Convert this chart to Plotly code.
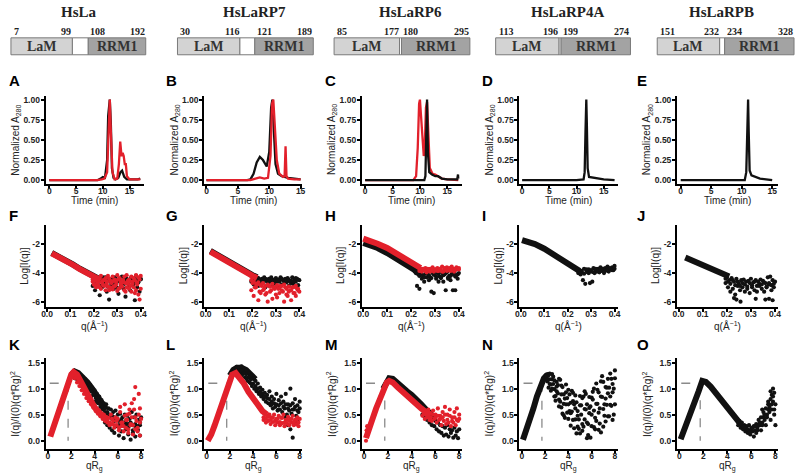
import plotly.graph_objects as go

W, H = 800, 473
BLACK = "#111111"
RED = "#e2202b"

# ---------------- domain diagrams (residue numbers) ----------------
PROTEINS = ["HsLa", "HsLaRP7", "HsLaRP6", "HsLaRP4A", "HsLaRPB"]
LAM_START = [7, 30, 85, 113, 151]
LAM_END = [99, 116, 177, 196, 232]
RRM_START = [108, 121, 180, 199, 234]
RRM_END = [192, 189, 295, 274, 328]

# ---------------- row 1: SEC chromatograms ----------------
A_T_BLACK = [0, 9.0, 9.6, 10.0, 10.4, 10.8, 11.0, 11.3, 11.5, 11.7, 12.0, 12.4, 12.9, 13.3, 13.6, 14.0, 14.5, 16.5, 17.0]
A_BLACK = [0.0, 0.0, 0.02, 0.04, 0.03, 0.25, 0.8, 1.0, 0.7, 0.15, 0.03, 0.01, 0.03, 0.1, 0.12, 0.04, 0.01, 0.01, 0.02]
A_T_RED = [0, 9.0, 9.8, 10.3, 10.8, 11.1, 11.3, 11.5, 11.8, 12.2, 12.7, 13.0, 13.25, 13.5, 13.7, 13.9, 14.1, 14.3, 14.5, 15.0, 17.0]
A_RED = [0.0, 0.0, 0.01, 0.02, 0.1, 0.7, 1.0, 0.6, 0.1, 0.01, 0.02, 0.2, 0.48, 0.3, 0.34, 0.3, 0.2, 0.2, 0.05, 0.01, 0.01]

B_T_BLACK = [0, 6.5, 7.0, 7.5, 8.0, 8.5, 9.0, 9.6, 10.0, 10.3, 10.5, 10.7, 11.0, 11.4, 12.0, 13.0, 14.0, 15.0]
B_BLACK = [0.0, 0.0, 0.01, 0.08, 0.22, 0.29, 0.25, 0.17, 0.35, 0.9, 1.0, 0.6, 0.2, 0.08, 0.05, 0.03, 0.02, 0.01]
B_T_RED = [0, 7.0, 7.8, 8.5, 9.2, 9.8, 10.2, 10.45, 10.65, 10.9, 11.2, 11.6, 12.2, 12.45, 12.6, 12.75, 13.0, 14.0, 15.0]
B_RED = [0.0, 0.0, 0.02, 0.035, 0.02, 0.03, 0.3, 0.95, 1.0, 0.7, 0.25, 0.08, 0.04, 0.05, 0.42, 0.05, 0.02, 0.01, 0.01]

C_T_RED = [0, 8.8, 9.3, 9.6, 9.85, 10.0, 10.2, 10.5, 10.7, 10.9, 11.1, 11.3, 11.5, 11.8, 12.3, 12.8, 13.3, 14.0, 15.0, 17.0]
C_RED = [0.0, 0.0, 0.05, 0.4, 0.95, 1.0, 0.8, 0.4, 0.3, 0.45, 0.9, 0.97, 0.6, 0.15, 0.08, 0.07, 0.05, 0.02, 0.01, 0.0]
C_T_BLACK = [0, 10.8, 11.0, 11.15, 11.3, 11.45, 11.7, 12.2, 12.8, 13.3, 14.0, 15.0, 16.8, 16.95, 17.0]
C_BLACK = [0.0, 0.0, 0.05, 0.6, 1.0, 0.35, 0.1, 0.07, 0.05, 0.05, 0.02, 0.01, 0.01, 0.07, 0.02]

D_T = [0, 10.0, 11.3, 11.5, 11.65, 11.8, 11.9, 12.05, 12.3, 13.0, 14.0, 15.0, 17.0]
D_BLACK = [0.0, 0.0, 0.01, 0.1, 0.6, 1.0, 0.7, 0.15, 0.04, 0.03, 0.02, 0.01, 0.0]

E_T = [0, 6.0, 10.5, 10.75, 10.9, 11.05, 11.15, 11.3, 11.6, 12.2, 13.0, 14.0, 15.0]
E_BLACK = [0.0, 0.005, 0.0, 0.1, 0.6, 1.0, 0.6, 0.12, 0.06, 0.04, 0.02, 0.01, 0.0]

# ---------------- row 2: SAXS log I(q) ----------------
QT = [0.20, 0.21, 0.22, 0.23, 0.24, 0.25, 0.26, 0.27, 0.28, 0.29, 0.30,
      0.31, 0.32, 0.33, 0.34, 0.35, 0.36, 0.37, 0.38, 0.39, 0.40]
QT2 = [0.195, 0.205, 0.215, 0.225, 0.235, 0.245, 0.255, 0.265, 0.275, 0.285, 0.295,
       0.305, 0.315, 0.325, 0.335, 0.345, 0.355, 0.365, 0.375, 0.385, 0.395]

F_CURVE_Q = [0.02, 0.05, 0.08, 0.11, 0.14, 0.17, 0.20, 0.22]
F_BLACK_CURVE = [-2.60, -2.84, -3.11, -3.40, -3.70, -3.99, -4.25, -4.40]
F_RED_CURVE = [-2.62, -2.86, -3.13, -3.42, -3.72, -4.01, -4.27, -4.42]
F_BLACK_T1 = [-4.50, -4.70, -4.40, -4.90, -4.50, -4.30, -4.95, -4.45, -4.60, -4.30, -5.05, -4.50, -4.25, -4.75, -4.40, -4.95, -4.30, -4.60, -4.20, -4.50, -4.40]
F_BLACK_T2 = [-4.90, -5.20, -4.75, -5.55, -5.00, -4.60, -5.30, -5.85, -4.80, -5.10, -4.65, -5.45, -4.90, -5.05, -5.65, -4.70, -5.20, -4.85, -5.90, -5.00, -5.30]
F_BLACK_T3 = [-4.20, -4.40, -4.60, -4.50, -4.30, -4.70, -4.40, -4.60, -4.35, -4.80, -4.45, -4.60, -4.70, -4.35, -4.55, -4.60, -4.45, -4.75, -4.50, -4.65, -4.45]
F_RED_T1 = [-4.40, -4.30, -4.60, -4.20, -4.50, -4.35, -4.20, -4.55, -4.25, -4.45, -4.15, -4.35, -4.55, -4.25, -4.15, -4.45, -4.25, -4.35, -4.15, -4.30, -4.20]
F_RED_T2 = [-4.60, -4.85, -4.50, -5.00, -4.70, -4.90, -4.60, -5.20, -4.70, -4.95, -4.60, -5.10, -4.80, -4.65, -5.30, -4.75, -4.90, -4.60, -5.40, -4.80, -5.85]
F_RED_T3 = [-4.45, -4.55, -4.70, -4.40, -4.60, -4.50, -4.75, -4.40, -4.60, -4.55, -4.80, -4.45, -4.65, -4.50, -4.70, -4.55, -4.60, -4.75, -4.50, -4.65, -4.45]
F_RED_T4 = [-4.80, -5.00, -4.90, -5.10, -4.85, -5.20, -4.95, -5.00, -5.15, -4.90, -5.25, -5.05, -4.95, -5.20, -5.00, -5.10, -5.30, -5.00, -5.20, -5.50, -5.10]

G_CURVE_Q = [0.02, 0.05, 0.08, 0.11, 0.14, 0.17, 0.20, 0.22]
G_BLACK_CURVE = [-2.45, -2.75, -3.05, -3.35, -3.63, -3.90, -4.15, -4.30]
G_RED_CURVE = [-2.50, -2.80, -3.10, -3.40, -3.68, -3.95, -4.20, -4.35]
G_BLACK_T1 = [-4.30, -4.50, -4.35, -4.60, -4.40, -4.30, -4.55, -4.40, -4.30, -4.60, -4.35, -4.45, -4.30, -4.50, -4.40, -4.35, -4.60, -4.30, -4.45, -4.40, -4.50]
G_BLACK_T2 = [-4.60, -4.80, -4.55, -4.90, -4.70, -4.65, -5.00, -4.75, -4.60, -4.85, -4.70, -4.95, -4.60, -4.80, -4.75, -4.65, -4.90, -4.70, -4.80, -4.60, -4.85]
G_BLACK_T3 = [-4.20, -4.40, -4.45, -4.35, -4.55, -4.50, -4.40, -4.65, -4.50, -4.45, -4.55, -4.60, -4.50, -4.40, -4.55, -4.50, -4.45, -4.55, -4.60, -4.35, -4.45]
G_RED_T1 = [-4.70, -5.00, -4.80, -5.30, -4.90, -5.10, -5.40, -4.90, -5.20, -5.00, -5.50, -5.10, -4.90, -5.30, -5.00, -5.60, -5.20, -5.00, -5.40, -5.10, -5.30]
G_RED_T2 = [-5.20, -5.60, -5.00, -5.90, -5.40, -5.20, -5.50, -6.00, -5.30, -5.80, -5.10, -5.70, -5.40, -5.20, -6.00, -5.50, -5.30, -5.90, -5.40, -5.60, -5.20]
G_RED_T3 = [-4.50, -4.60, -4.75, -4.65, -4.85, -4.70, -4.90, -4.80, -4.95, -4.75, -5.00, -4.85, -5.05, -4.90, -4.80, -5.10, -4.95, -5.20, -5.00, -4.90, -5.10]

H_RED_CURVE_Q = [0.00, 0.03, 0.06, 0.10, 0.14, 0.18, 0.21, 0.24]
H_RED_CURVE = [-1.60, -1.75, -1.95, -2.25, -2.65, -3.10, -3.45, -3.65]
H_BLACK_CURVE_Q = [0.00, 0.03, 0.06, 0.10, 0.14, 0.18, 0.21, 0.23]
H_BLACK_CURVE = [-1.90, -2.05, -2.25, -2.60, -3.00, -3.45, -3.80, -3.95]
H_RED_T1 = [None, None, None, None, -3.70, -3.75, -3.65, -3.80, -3.70, -3.60, -3.75, -3.65, -3.70, -3.55, -3.70, -3.60, -3.65, -3.55, -3.70, -3.60, -3.65]
H_RED_T2 = [None, None, None, None, -3.85, -3.90, -3.80, -3.95, -3.85, -3.80, -3.90, -3.75, -3.85, -3.80, -3.90, -3.75, -3.80, -3.85, -3.75, -3.80, -3.70]
H_RED_T3 = [None, None, None, -3.60, -3.80, -3.70, -3.85, -3.70, -3.90, -3.75, -3.80, -3.85, -3.75, -3.90, -3.65, -3.85, -3.75, -3.80, -3.90, -3.70, -3.75]
H_BLACK_T1 = [None, None, -4.00, -4.10, -3.95, -4.20, -4.05, -3.90, -4.30, -4.00, -4.15, -3.95, -4.25, -4.00, -4.10, -3.95, -4.20, -4.05, -3.95, -4.15, -4.00]
H_BLACK_T2 = [None, None, None, -4.90, -5.10, -4.40, -4.60, -4.30, -4.50, -5.30, -5.40, -4.40, -4.60, -4.35, -4.60, -5.20, -4.40, -4.50, -5.20, -5.20, -4.40]
H_BLACK_T3 = [None, None, -3.90, -4.00, -4.20, -4.10, -4.30, -4.00, -4.15, -4.35, -4.10, -4.25, -4.05, -4.30, -4.15, -4.00, -4.30, -4.20, -4.10, -4.25, -4.10]

I_CURVE_Q = [0.005, 0.03, 0.06, 0.10, 0.14, 0.18, 0.22, 0.25]
I_CURVE = [-1.70, -1.80, -1.98, -2.30, -2.72, -3.20, -3.65, -3.85]
I_T1 = [None, None, None, None, None, -3.80, -3.95, -3.70, -3.85, -3.75, -3.90, -3.65, -3.80, -3.70, -3.60, -3.75, -3.65, -3.55, -3.70, -3.60, -3.50]
I_T2 = [None, None, None, None, None, -4.00, -4.10, -4.50, -4.75, -3.95, -4.70, -4.60, -4.00, -3.90, -3.95, -3.85, -4.00, -3.80, -3.90, -3.75, -3.80]
I_T3 = [None, None, None, None, -3.75, -3.90, -3.85, -4.05, -3.75, -4.00, -3.80, -3.95, -3.70, -3.85, -3.80, -3.70, -3.85, -3.75, -3.65, -3.80, -3.70]

J_CURVE_Q = [0.028, 0.06, 0.10, 0.14, 0.18, 0.21]
J_CURVE = [-2.92, -3.17, -3.45, -3.75, -4.05, -4.25]
J_T1 = [-4.30, -4.50, -4.35, -4.60, -4.40, -4.70, -4.50, -4.45, -4.60, -4.55, -4.40, -4.65, -4.50, -4.60, -4.45, -4.55, -4.70, -4.30, -4.25, -4.50, -4.60]
J_T2 = [-4.70, -5.00, -5.30, -5.10, -5.50, -4.90, -5.20, -5.00, -5.30, -5.10, -5.40, -5.00, -5.20, -5.30, -4.90, -5.10, -5.30, -5.00, -4.80, -5.20, -5.00]
J_T4 = [-4.40, -4.60, -4.75, -4.50, -4.85, -4.60, -4.90, -4.70, -4.80, -4.95, -4.70, -4.85, -4.60, -4.90, -4.75, -4.80, -4.65, -4.95, -4.70, -4.85, -4.75]
J_T3_Q = [0.23, 0.24, 0.257, 0.32, 0.36, 0.375, 0.39]
J_T3 = [-5.75, -5.85, -6.00, -5.80, -5.85, -5.80, -5.90]

# ---------------- row 3: dimensionless Kratky ----------------
RT = [2.2, 2.4, 2.6, 2.8, 3.0, 3.2, 3.4, 3.6, 3.8, 4.0, 4.2, 4.4, 4.6, 4.8, 5.0,
      5.2, 5.4, 5.6, 5.8, 6.0, 6.2, 6.4, 6.6, 6.8, 7.0, 7.2, 7.4, 7.6, 7.8, 8.0]
RT2 = [2.1, 2.3, 2.5, 2.7, 2.9, 3.1, 3.3, 3.5, 3.7, 3.9, 4.1, 4.3, 4.5, 4.7, 4.9,
       5.1, 5.3, 5.5, 5.7, 5.9, 6.1, 6.3, 6.5, 6.7, 6.9, 7.1, 7.3, 7.5, 7.7, 7.9]
RL = [5.0, 5.2, 5.4, 5.6, 5.8, 6.0, 6.2, 6.4, 6.6, 6.8, 7.0, 7.2, 7.4, 7.6, 7.8, 8.0]
RL2 = [4.9, 5.1, 5.3, 5.5, 5.7, 5.9, 6.1, 6.3, 6.5, 6.7, 6.9, 7.1, 7.3, 7.5, 7.7, 7.9]
GUIDE_X = 1.73
GUIDE_Y = 1.104
GUIDE_START = 0.15

K_RED_CURVE_X = [0.2, 0.5, 0.8, 1.1, 1.4, 1.7, 2.0, 2.2, 2.5, 2.8, 3.1, 3.4, 3.7, 4.0, 4.3, 4.6, 5.0]
K_RED_CURVE = [0.08, 0.28, 0.50, 0.72, 0.93, 1.10, 1.27, 1.32, 1.27, 1.15, 1.02, 0.88, 0.76, 0.64, 0.56, 0.49, 0.42]
K_BLACK_CURVE_X = [2.0, 2.3, 2.6, 3.0, 3.4, 3.8, 4.2, 4.6, 5.0]
K_BLACK_CURVE = [1.27, 1.33, 1.30, 1.22, 1.12, 1.00, 0.86, 0.72, 0.60]
K_BLACK_T1 = [1.30, 1.32, 1.28, 1.25, 1.22, 1.18, 1.12, 1.08, 1.02, 0.97, 0.90, 0.85, 0.78, 0.72, 0.70, 0.62, 0.60, 0.55, 0.58, 0.50, 0.52, 0.45, 0.50, 0.48, 0.42, 0.55, 0.45, 0.50, 0.40, 0.45]
K_BLACK_T2 = [1.25, 1.20, 1.18, 1.15, 1.05, 1.10, 0.98, 0.95, 0.85, 0.88, 0.75, 0.72, 0.65, 0.60, 0.55, 0.50, 0.45, 0.42, 0.38, 0.40, 0.30, 0.35, 0.28, 0.32, 0.25, 0.30, 0.20, 0.28, 0.22, 0.30]
K_BLACK_T3 = [0.35, 0.30, 0.25, 0.20, 0.15, 0.28, 0.10, 0.18, 0.05, 0.22, 0.12, 0.02, 0.15, 0.08, 0.20, 0.10]
K_BLACK_T4 = [1.28, 1.30, 1.25, 1.20, 1.15, 1.12, 1.05, 1.00, 0.95, 0.90, 0.82, 0.78, 0.70, 0.65, 0.62, 0.55, 0.50, 0.48, 0.45, 0.42, 0.38, 0.40, 0.35, 0.38, 0.32, 0.35, 0.30, 0.32, 0.28, 0.35]
K_RED_T1 = [1.30, 1.24, 1.17, 1.10, 1.02, 0.95, 0.88, 0.80, 0.74, 0.68, 0.62, 0.58, 0.52, 0.50, 0.46, 0.44, 0.50, 0.38, 0.45, 0.42, 0.55, 0.35, 0.48, 0.40, 0.52, 0.45, 0.60, 0.38, 0.50, 0.42]
K_RED_T2 = [1.25, 1.20, 1.12, 1.05, 0.97, 0.90, 0.82, 0.76, 0.70, 0.64, 0.57, 0.52, 0.47, 0.42, 0.38, 0.35, 0.30, 0.32, 0.25, 0.30, 0.20, 0.28, 0.18, 0.25, 0.15, 0.30, 0.12, 0.22, 0.18, 0.10]
K_RED_T4 = [0.45, 0.40, 0.35, 0.42, 0.30, 0.38, 0.25, 0.35, 0.28, 0.40, 0.22, 0.32, 0.30, 0.45, 0.25, 0.35]
K_RED_T3_X = [6.2, 6.6, 7.0, 7.4, 7.5, 7.8, 7.2, 6.8, 7.9]
K_RED_T3 = [0.65, 0.70, 0.60, 0.80, 1.03, 0.90, 0.72, 0.50, 0.62]

L_RED_CURVE_X = [0.1, 0.4, 0.7, 1.0, 1.3, 1.6, 1.9, 2.2, 2.5, 2.8, 3.2, 3.6, 4.0, 4.4, 4.8, 5.2]
L_RED_CURVE = [0.00, 0.12, 0.30, 0.50, 0.72, 0.92, 1.12, 1.27, 1.30, 1.23, 1.10, 0.94, 0.80, 0.68, 0.57, 0.50]
L_BLACK_CURVE_X = [2.0, 2.3, 2.6, 3.0, 3.4, 3.8, 4.2]
L_BLACK_CURVE = [1.25, 1.36, 1.40, 1.40, 1.36, 1.28, 1.18]
L_BLACK_T1 = [1.32, 1.38, 1.42, 1.40, 1.43, 1.38, 1.35, 1.30, 1.25, 1.20, 1.15, 1.10, 1.02, 0.98, 0.92, 0.88, 0.95, 0.85, 0.80, 0.90, 0.78, 0.85, 0.75, 0.90, 0.70, 1.00, 0.72, 0.80, 0.68, 0.75]
L_BLACK_T2 = [1.28, 1.32, 1.35, 1.33, 1.30, 1.28, 1.22, 1.15, 1.12, 1.05, 1.00, 0.95, 0.90, 0.85, 0.80, 0.75, 0.72, 0.68, 0.62, 0.65, 0.58, 0.60, 0.55, 0.62, 0.50, 0.58, 0.52, 0.60, 0.48, 0.55]
L_BLACK_T4 = [1.30, 1.35, 1.38, 1.36, 1.35, 1.30, 1.28, 1.22, 1.18, 1.10, 1.05, 1.00, 0.95, 0.90, 0.85, 0.82, 0.80, 0.75, 0.72, 0.70, 0.68, 0.72, 0.65, 0.70, 0.62, 0.68, 0.60, 0.65, 0.58, 0.62]
L_BLACK_T3_X = [3.0, 3.4, 3.8, 4.2, 4.6, 5.0, 5.6, 6.2, 6.8, 7.0, 7.2, 7.4, 7.6, 7.8]
L_BLACK_T3 = [1.25, 1.20, 1.10, 1.00, 0.90, 0.85, 0.70, 0.60, 0.45, 0.30, 0.22, 0.06, 0.35, 0.40]
L_RED_T1 = [0.52, 0.48, 0.50, 0.45, 0.50, 0.42, 0.48, 0.44, 0.50, 0.40, 0.46, 0.42, 0.48, 0.40, 0.45, 0.42]
L_RED_T2 = [0.40, 0.35, 0.38, 0.32, 0.36, 0.30, 0.35, 0.30, 0.34, 0.28, 0.33, 0.30, 0.35, 0.30, 0.32, 0.28]
L_RED_T3 = [0.45, 0.42, 0.46, 0.40, 0.44, 0.38, 0.42, 0.36, 0.44, 0.35, 0.40, 0.38, 0.42, 0.36, 0.40, 0.35]

M_RED_CURVE_X = [0.15, 0.4, 0.7, 1.0, 1.3, 1.6, 1.9, 2.1, 2.4, 2.8, 3.2, 3.6, 4.0, 4.4, 4.8, 5.2, 5.6]
M_RED_CURVE = [0.05, 0.25, 0.42, 0.62, 0.80, 0.98, 1.12, 1.15, 1.12, 1.03, 0.94, 0.86, 0.78, 0.70, 0.62, 0.55, 0.50]
M_BLACK_CURVE_X = [1.6, 1.9, 2.1, 2.4, 2.8, 3.2, 3.6, 4.0, 4.4, 4.8, 5.2, 5.6, 6.0]
M_BLACK_CURVE = [1.00, 1.15, 1.20, 1.19, 1.10, 1.02, 0.95, 0.88, 0.80, 0.70, 0.60, 0.52, 0.42]
M_RED_T0_X = [0.15, 0.2, 0.25, 0.3, 0.2]
M_RED_T0 = [0.0, 0.2, 0.28, 0.15, 0.1]
M_BLACK_T1 = [0.60, 0.55, 0.50, 0.45, 0.42, 0.38, 0.35, 0.30, 0.28, 0.25, 0.30, 0.22, 0.20, 0.25, 0.18, 0.22]
M_BLACK_T2 = [0.50, 0.45, 0.40, 0.35, 0.30, 0.28, 0.22, 0.18, 0.15, 0.10, 0.12, 0.08, 0.15, 0.06, 0.10, 0.05]
M_RED_T1 = [0.58, 0.55, 0.60, 0.52, 0.58, 0.50, 0.62, 0.48, 0.55, 0.65, 0.50, 0.60, 0.45, 0.55, 0.62, 0.50]
M_RED_T2 = [0.48, 0.42, 0.45, 0.40, 0.38, 0.42, 0.35, 0.40, 0.30, 0.38, 0.32, 0.35, 0.28, 0.35, 0.30, 0.38]
M_RED_T3 = [0.52, 0.50, 0.48, 0.45, 0.50, 0.44, 0.48, 0.42, 0.45, 0.50, 0.40, 0.48, 0.38, 0.45, 0.40, 0.42]

N_CURVE_X = [0.1, 0.4, 0.7, 1.0, 1.3, 1.6, 1.9, 2.2]
N_CURVE = [0.02, 0.20, 0.40, 0.62, 0.85, 1.05, 1.20, 1.27]
N_T1 = [1.28, 1.09, 1.18, 0.85, 0.95, 1.19, 0.64, 0.89, 0.70, 0.98, 0.29, 0.76, 0.41, 0.57, 0.86, 0.19, 0.61, 0.35, 0.84, 0.28, 0.58, 1.10, 0.21, 0.85, 0.61, 1.03, 0.47, 1.29, 0.93, 0.70]
N_T2 = [1.20, 1.26, 0.96, 1.09, 0.86, 1.07, 1.17, 0.52, 0.81, 0.54, 0.89, 0.56, 0.70, 0.14, 0.41, 0.68, 0.27, 0.90, 0.11, 0.66, 0.94, 0.44, 0.71, 0.33, 1.24, 0.70, 1.02, 0.47, 1.19, 1.00]
N_T3 = [1.14, 1.18, 1.28, 0.99, 1.13, 0.66, 0.89, 0.71, 1.08, 0.42, 0.73, 0.40, 0.87, 0.48, 0.68, 0.32, 0.95, 0.05, 0.53, 0.83, 0.26, 0.71, 0.54, 1.14, 0.27, 0.81, 1.19, 0.69, 0.40, 1.35]
N_T4 = [1.24, 1.02, 1.08, 1.23, 0.77, 0.91, 0.75, 1.03, 0.44, 0.82, 0.57, 0.96, 0.24, 0.74, 0.23, 0.50, 0.85, 0.60, 0.32, 0.06, 0.79, 0.22, 0.98, 0.62, 0.84, 0.48, 0.69, 1.02, 0.67, 0.50]
N_T5 = [1.18, 1.29, 1.00, 1.16, 1.04, 0.79, 1.06, 0.49, 0.93, 0.70, 0.53, 0.92, 0.62, 0.27, 0.14, 0.82, 0.41, 0.70, 0.63, 0.50, 1.00, 0.38, 0.93, 0.16, 1.13, 0.37, 0.91, 0.85, 1.09, 1.20]

O_CURVE_X = [0.1, 0.4, 0.7, 1.0, 1.3, 1.6, 1.9, 2.2, 2.6, 3.0, 3.4, 3.8, 4.2, 4.6, 5.0]
O_CURVE = [0.03, 0.20, 0.37, 0.55, 0.75, 0.95, 1.15, 1.13, 1.04, 0.93, 0.82, 0.70, 0.57, 0.45, 0.35]
O_T1 = [0.38, 0.35, 0.30, 0.28, 0.30, 0.25, 0.28, 0.32, 0.40, 0.45, 0.55, 0.62, 0.70, 0.80, 0.85, 0.70]
O_T2 = [0.30, 0.25, 0.22, 0.18, 0.15, 0.12, 0.18, 0.20, 0.25, 0.30, 0.35, 0.40, 0.50, 0.55, 0.60, 0.50]
O_T3 = [0.34, 0.30, 0.26, 0.22, 0.20, 0.20, 0.08, 0.15, 0.30, 0.20, 0.45, 0.30, 0.60, 0.40, 0.75, 0.30]
O_T5 = [0.36, 0.32, 0.28, 0.25, 0.22, 0.18, 0.25, 0.28, 0.20, 0.35, 0.30, 0.50, 0.45, 0.65, 0.70, 0.60]
O_T4_X = [7.6, 7.8, 7.9, 7.7, 7.4, 6.9, 7.1]
O_T4 = [0.95, 1.00, 0.92, 0.88, 0.75, 0.60, 0.50]

# ---------------- ticks ----------------
ROW1_XTICKS = [0, 5, 10, 15]
ROW1_YTICKS = [0, 0.25, 0.5, 0.75, 1.0]
ROW1_YTEXT = ["0.00", "0.25", "0.50", "0.75", "1.00"]
ROW2_XTICKS = [0, 0.1, 0.2, 0.3, 0.4]
ROW2_XTEXT = ["0.0", "0.1", "0.2", "0.3", "0.4"]
ROW2_YTICKS = [-6, -4, -2]
ROW3_XTICKS = [0, 2, 4, 6, 8]
ROW3_YTICKS = [0, 0.5, 1.0, 1.5]
ROW3_YTEXT = ["0.0", "0.5", "1.0", "1.5"]

# ================= layout geometry (pixels) =================
COL_PX = [(42, 141), (202, 301), (361, 462), (520, 619), (679, 781)]
ROW_PX = [(95, 184), (225, 307), (359, 450)]
ROW1_XRANGE = [[-0.69, 17.65], [-0.36, 15.28], [-0.6, 17.67], [-0.49, 17.55], [-0.6, 15.98]]
BOX_PX = [(7, 69, 85, 143), (175, 238, 253, 312), (333, 399, 401, 470), (496, 560, 562, 632), (659, 722, 727, 797)]
BOX_Y = (37, 54)
TITLE_X = [76, 253, 410, 569, 724]
LETTER_X = [3, 161, 322, 480, 637]
LETTER_Y = [80, 215, 345]
LETTERS = ["A", "B", "C", "D", "E", "F", "G", "H", "I", "J", "K", "L", "M", "N", "O"]

def fx(x):
    return x / W

def fy(y):
    return 1 - y / H

fig = go.Figure()
layout = dict(width=W, height=H, margin=dict(l=0, r=0, t=0, b=0),
              paper_bgcolor="white", plot_bgcolor="white", showlegend=False,
              hovermode=False)
annotations = []
shapes = []

TICKFONT = dict(family="Arial", size=8.5, color="#222222", weight="bold")

def ax_names(idx):
    return ("xaxis" if idx == 1 else f"xaxis{idx}", "yaxis" if idx == 1 else f"yaxis{idx}",
            "x" if idx == 1 else f"x{idx}", "y" if idx == 1 else f"y{idx}")

def make_axes(idx, row, col, xr, yr, xt, xtt, yt, ytt):
    xn, yn, xref, yref = ax_names(idx)
    x0, x1 = COL_PX[col]
    y0, y1 = ROW_PX[row]
    common = dict(showline=True, linecolor="black", linewidth=2, ticks="outside",
                  ticklen=3, tickwidth=2, tickcolor="black", showgrid=False,
                  zeroline=False, tickfont=TICKFONT, fixedrange=True)
    layout[xn] = dict(domain=[fx(x0), fx(x1)], range=xr, anchor=yref,
                      tickvals=xt, ticktext=xtt, ticklabelstandoff=-5, **common)
    layout[yn] = dict(domain=[fy(y1), fy(y0)], range=yr, anchor=xref,
                      tickvals=yt, ticktext=ytt, ticklabelstandoff=-1, **common)
    return xref, yref

def line(xref, yref, x, y, color, width):
    fig.add_trace(go.Scatter(x=x, y=y, xaxis=xref, yaxis=yref, mode="lines",
                             line=dict(color=color, width=width), hoverinfo="skip"))

def dots(xref, yref, x, y, color, size=4.2):
    fig.add_trace(go.Scatter(x=x, y=y, xaxis=xref, yaxis=yref, mode="markers",
                             marker=dict(color=color, size=size, line=dict(width=0)),
                             hoverinfo="skip"))

def guide(xref, yref):
    fig.add_trace(go.Scatter(x=[GUIDE_START, GUIDE_X, GUIDE_X], y=[GUIDE_Y, GUIDE_Y, 0],
                             xaxis=xref, yaxis=yref, mode="lines",
                             line=dict(color="#8a8a8a", width=1.3, dash="dash"),
                             hoverinfo="skip"))

# ---------- row 1 ----------
row1 = [
    [(A_T_BLACK, A_BLACK, BLACK), (A_T_RED, A_RED, RED)],
    [(B_T_BLACK, B_BLACK, BLACK), (B_T_RED, B_RED, RED)],
    [(C_T_RED, C_RED, RED), (C_T_BLACK, C_BLACK, BLACK)],
    [(D_T, D_BLACK, BLACK)],
    [(E_T, E_BLACK, BLACK)],
]
for c in range(5):
    idx = c + 1
    xref, yref = make_axes(idx, 0, c, ROW1_XRANGE[c], [-0.05, 1.05],
                           ROW1_XTICKS, [str(v) for v in ROW1_XTICKS], ROW1_YTICKS, ROW1_YTEXT)
    for (t, v, col) in row1[c]:
        line(xref, yref, t, v, col, 2.3)

# ---------- row 2 ----------
R2X = [-0.006, 0.413]
R2Y = [-6.35, -0.65]
row2 = [
    dict(curves=[(F_CURVE_Q, F_BLACK_CURVE, BLACK)],
         dots=[(QT, F_BLACK_T1, BLACK), (QT2, F_BLACK_T2, BLACK), (QT, F_BLACK_T3, BLACK),
               (QT, F_RED_T1, RED), (QT2, F_RED_T2, RED), (QT2, F_RED_T3, RED), (QT, F_RED_T4, RED)],
         curves2=[(F_CURVE_Q, F_RED_CURVE, RED)]),
    dict(curves=[(G_CURVE_Q, G_BLACK_CURVE, BLACK)],
         dots=[(QT, G_BLACK_T1, BLACK), (QT2, G_BLACK_T2, BLACK), (QT2, G_BLACK_T3, BLACK),
               (QT, G_RED_T1, RED), (QT2, G_RED_T2, RED), (QT2, G_RED_T3, RED)],
         curves2=[(G_CURVE_Q, G_RED_CURVE, RED)]),
    dict(curves=[(H_BLACK_CURVE_Q, H_BLACK_CURVE, BLACK)],
         dots=[(QT, H_BLACK_T1, BLACK), (QT2, H_BLACK_T2, BLACK), (QT2, H_BLACK_T3, BLACK),
               (QT, H_RED_T1, RED), (QT2, H_RED_T2, RED), (QT, H_RED_T3, RED)],
         curves2=[(H_RED_CURVE_Q, H_RED_CURVE, RED)]),
    dict(curves=[(I_CURVE_Q, I_CURVE, BLACK)],
         dots=[(QT, I_T1, BLACK), (QT2, I_T2, BLACK), (QT, I_T3, BLACK)], curves2=[]),
    dict(curves=[(J_CURVE_Q, J_CURVE, BLACK)],
         dots=[(QT, J_T1, BLACK), (QT2, J_T2, BLACK), (QT2, J_T4, BLACK), (J_T3_Q, J_T3, BLACK)], curves2=[]),
]
for c in range(5):
    idx = 6 + c
    xref, yref = make_axes(idx, 1, c, R2X, R2Y, ROW2_XTICKS, ROW2_XTEXT,
                           ROW2_YTICKS, [str(v) for v in ROW2_YTICKS])
    p = row2[c]
    for (x, y, col) in p["curves"]:
        line(xref, yref, x, y, col, 6)
    for (x, y, col) in p["dots"]:
        dots(xref, yref, x, y, col)
    for (x, y, col) in p["curves2"]:
        line(xref, yref, x, y, col, 6)

# ---------- row 3 ----------
R3X = [-0.2, 8.23]
R3Y = [-0.16, 1.58]
row3 = [
    [("l", K_BLACK_CURVE_X, K_BLACK_CURVE, BLACK), ("d", RT, K_BLACK_T1, BLACK), ("d", RT2, K_BLACK_T2, BLACK),
     ("d", RL2, K_BLACK_T3, BLACK), ("d", RT2, K_BLACK_T4, BLACK), ("d", RT, K_RED_T1, RED),
     ("d", RT2, K_RED_T2, RED), ("d", RL2, K_RED_T4, RED),
     ("d", K_RED_T3_X, K_RED_T3, RED), ("l", K_RED_CURVE_X, K_RED_CURVE, RED)],
    [("l", L_BLACK_CURVE_X, L_BLACK_CURVE, BLACK), ("d", RT, L_BLACK_T1, BLACK), ("d", RT2, L_BLACK_T2, BLACK),
     ("d", RT, L_BLACK_T4, BLACK), ("d", L_BLACK_T3_X, L_BLACK_T3, BLACK), ("d", RL, L_RED_T1, RED),
     ("d", RL2, L_RED_T2, RED), ("d", RL2, L_RED_T3, RED),
     ("l", L_RED_CURVE_X, L_RED_CURVE, RED)],
    [("l", M_BLACK_CURVE_X, M_BLACK_CURVE, BLACK), ("d", RL, M_BLACK_T1, BLACK), ("d", RL2, M_BLACK_T2, BLACK),
     ("d", RL, M_RED_T1, RED), ("d", RL2, M_RED_T2, RED), ("d", RL, M_RED_T3, RED),
     ("d", M_RED_T0_X, M_RED_T0, RED), ("l", M_RED_CURVE_X, M_RED_CURVE, RED)],
    [("l", N_CURVE_X, N_CURVE, BLACK), ("d", RT, N_T1, BLACK), ("d", RT2, N_T2, BLACK),
     ("d", RT, N_T3, BLACK), ("d", RT2, N_T4, BLACK), ("d", RT, N_T5, BLACK)],
    [("l", O_CURVE_X, O_CURVE, BLACK), ("d", RL, O_T1, BLACK), ("d", RL2, O_T2, BLACK),
     ("d", RL, O_T3, BLACK), ("d", RL2, O_T5, BLACK), ("d", O_T4_X, O_T4, BLACK)],
]
for c in range(5):
    idx = 11 + c
    xref, yref = make_axes(idx, 2, c, R3X, R3Y, ROW3_XTICKS, [str(v) for v in ROW3_XTICKS],
                           ROW3_YTICKS, ROW3_YTEXT)
    guide(xref, yref)
    for (kind, x, y, col) in row3[c]:
        if kind == "l":
            line(xref, yref, x, y, col, 6)
        else:
            dots(xref, yref, x, y, col)

# ---------- axis titles ----------
TITLE_FONT = dict(family="Arial", size=10, color="#222222")
ROW_YTITLES = ["Normalized A<sub>280</sub>", "Log[I(q)]", "I(q)/I(0)(q*Rg)<sup>2</sup>"]
ROW_XTITLES = ["Time (min)", "q(Å<sup>−1</sup>)", "qR<sub>g</sub>"]
YTITLE_DX = [30, 21, 31]
XTITLE_Y = [200, 326, 467]
for r in range(3):
    y0, y1 = ROW_PX[r]
    for c in range(5):
        x0, x1 = COL_PX[c]
        annotations.append(dict(text=ROW_YTITLES[r], x=fx(x0 - YTITLE_DX[r]), y=fy((y0 + y1) / 2),
                                xref="paper", yref="paper", showarrow=False, textangle=-90,
                                font=TITLE_FONT, xanchor="center", yanchor="middle"))
        annotations.append(dict(text=ROW_XTITLES[r], x=fx((x0 + x1) / 2), y=fy(XTITLE_Y[r]),
                                xref="paper", yref="paper", showarrow=False,
                                font=TITLE_FONT, xanchor="center", yanchor="middle"))
        annotations.append(dict(text=LETTERS[r * 5 + c], x=fx(LETTER_X[c]), y=fy(LETTER_Y[r]),
                                xref="paper", yref="paper", showarrow=False,
                                font=dict(family="Arial", size=15, color="black", weight="bold"),
                                xanchor="left", yanchor="middle"))

# ---------- domain diagrams ----------
SERIF = "Liberation Serif"
for i in range(5):
    a, b, c2, d = BOX_PX[i]
    ytop, ybot = BOX_Y
    shapes.append(dict(type="rect", xref="paper", yref="paper", x0=fx(a), x1=fx(b), y0=fy(ybot), y1=fy(ytop),
                       fillcolor="#d3d3d3", line=dict(color="#7a7a7a", width=1)))
    if c2 > b:
        shapes.append(dict(type="rect", xref="paper", yref="paper", x0=fx(b), x1=fx(c2), y0=fy(ybot), y1=fy(ytop),
                           fillcolor="white", line=dict(color="#7a7a7a", width=1)))
    shapes.append(dict(type="rect", xref="paper", yref="paper", x0=fx(c2), x1=fx(d), y0=fy(ybot), y1=fy(ytop),
                       fillcolor="#a3a3a3", line=dict(color="#7a7a7a", width=1)))
    annotations.append(dict(text=PROTEINS[i], x=fx(TITLE_X[i]), y=fy(11), xref="paper", yref="paper",
                            showarrow=False, font=dict(family=SERIF, size=15, color="#222", weight="bold"),
                            xanchor="center", yanchor="middle"))
    annotations.append(dict(text="LaM", x=fx((a + b) / 2), y=fy(45.5), xref="paper", yref="paper",
                            showarrow=False, font=dict(family=SERIF, size=14, color="#333", weight="bold"),
                            xanchor="center", yanchor="middle"))
    annotations.append(dict(text="RRM1", x=fx((c2 + d) / 2), y=fy(46), xref="paper", yref="paper",
                            showarrow=False, font=dict(family=SERIF, size=14, color="#333", weight="bold"),
                            xanchor="center", yanchor="middle"))
    numfont = dict(family=SERIF, size=10, color="#222", weight="bold")
    for val, xp, anc in [(LAM_START[i], a + 1, "left"), (LAM_END[i], b + 1, "right"),
                         (RRM_START[i], c2, "left"), (RRM_END[i], d + 1, "right")]:
        annotations.append(dict(text=str(val), x=fx(xp), y=fy(31), xref="paper", yref="paper",
                                showarrow=False, font=numfont, xanchor=anc, yanchor="middle"))

layout["annotations"] = annotations
layout["shapes"] = shapes
fig.update_layout(**layout)
fig.write_html("out.html", config={"displayModeBar": False},
               post_script="document.body.style.margin='0px';document.body.style.overflow='hidden';")
